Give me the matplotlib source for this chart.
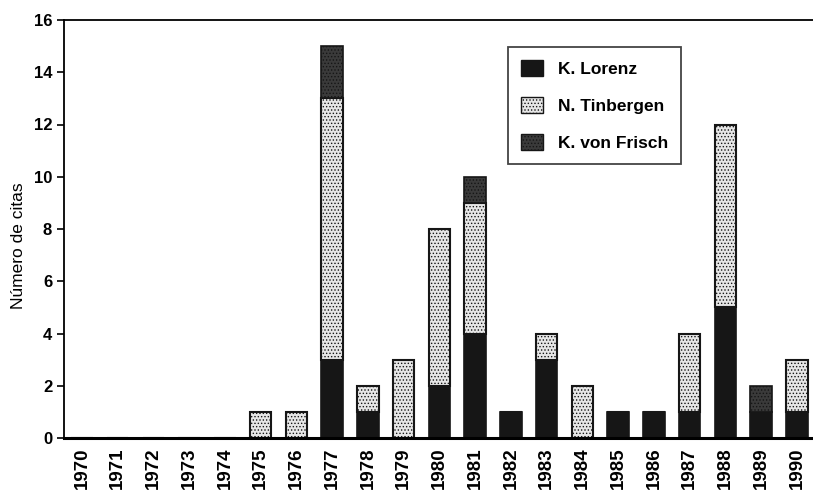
import matplotlib
matplotlib.use("Agg")
import matplotlib.pyplot as plt
import numpy as np
from matplotlib.patches import Patch

plt.rcParams['font.family'] = ['Liberation Sans', 'DejaVu Sans']
plt.rcParams['hatch.linewidth'] = 0.6

years = [str(y) for y in range(1970, 1991)]
lorenz    = [0, 0, 0, 0, 0, 0, 0, 3, 1, 0, 2, 4, 1, 3, 0, 1, 1, 1, 5, 1, 1]
tinbergen = [0, 0, 0, 0, 0, 1, 1, 10, 1, 3, 6, 5, 0, 1, 2, 0, 0, 3, 7, 0, 2]
frisch    = [0, 0, 0, 0, 0, 0, 0, 2, 0, 0, 0, 1, 0, 0, 0, 0, 0, 0, 0, 1, 0]
labels = ['K. Lorenz', 'N. Tinbergen', 'K. von Frisch']

fig = plt.figure(figsize=(8.13, 4.95), dpi=100)
ax = fig.add_axes([64/813, 1 - 438/495, (813-64)/813, (438-20)/495])

x = np.arange(len(years))
w = 0.6
lor = np.array(lorenz); tin = np.array(tinbergen); fri = np.array(frisch)

ax.bar(x, lor, w, color='#161616', edgecolor='#161616', linewidth=1.2)
ax.bar(x, tin, w, bottom=lor, color='#e6e6e6', edgecolor='#161616', linewidth=1.5,
       hatch='.....')
ax.bar(x, fri, w, bottom=lor + tin, color='#3a3a3a', edgecolor='#161616', linewidth=1.2,
       hatch='.....')

ax.set_xlim(-0.5, 20.45)
ax.set_ylim(0, 16)
ax.set_yticks(range(0, 17, 2))
ax.set_xticks(x)
ax.set_xticklabels(years, rotation=90, fontsize=13.5, fontweight='bold')
ax.tick_params(axis='x', length=0, pad=7)
ax.tick_params(axis='y', length=5, width=1.2, labelsize=12, direction='out')
for t in ax.get_yticklabels():
    t.set_fontweight('bold')
ax.set_ylabel('Número de citas', fontsize=12.5)
ax.yaxis.set_label_coords(-0.051, 0.46)

ax.spines['right'].set_visible(False)
ax.spines['top'].set_linewidth(1.3)
ax.spines['left'].set_linewidth(1.3)
ax.spines['bottom'].set_linewidth(2.2)

handles = [
    Patch(facecolor='#161616', edgecolor='#161616'),
    Patch(facecolor='#e6e6e6', edgecolor='#161616', hatch='.....'),
    Patch(facecolor='#3a3a3a', edgecolor='#161616', hatch='.....'),
]
leg = ax.legend(handles, labels, loc='upper left', bbox_to_anchor=(0.593, 0.936),
                frameon=True, fancybox=False, edgecolor='#161616',
                prop={'size': 12.5, 'weight': 'bold'},
                handlelength=1.27, handleheight=1.05, labelspacing=1.15,
                borderpad=0.75, handletextpad=0.85, borderaxespad=0)
leg.get_frame().set_linewidth(1.3)

fig.savefig('out.png', dpi=100)
